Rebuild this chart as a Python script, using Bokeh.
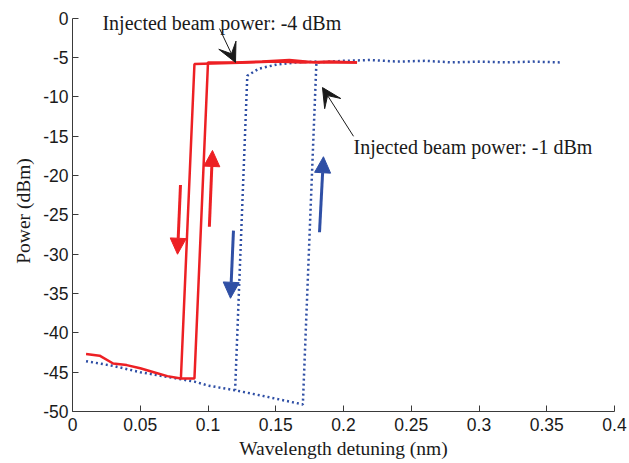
from bokeh.plotting import figure
from bokeh.models import Range1d, FixedTicker, CustomJSTickFormatter, Arrow, NormalHead, VeeHead, Label
from bokeh.embed import file_html
from bokeh.resources import INLINE

# Data
red_up_x = [0.01, 0.02, 0.03, 0.04, 0.05, 0.06, 0.07, 0.08, 0.09, 0.10, 0.12, 0.14, 0.16, 0.18, 0.21]
red_up_y = [-42.7, -42.9, -43.9, -44.1, -44.5, -45.0, -45.5, -45.8, -45.8, -5.6, -5.6, -5.5, -5.3, -5.6, -5.6]
red_down_x = [0.21, 0.19, 0.17, 0.15, 0.13, 0.11, 0.09, 0.08]
red_down_y = [-5.6, -5.5, -5.6, -5.5, -5.6, -5.7, -5.8, -45.8]

blue_up_x = [0.01, 0.03, 0.05, 0.07, 0.09, 0.10, 0.12, 0.14, 0.17, 0.18, 0.20, 0.22, 0.24, 0.26, 0.28, 0.30, 0.32, 0.34, 0.36]
blue_up_y = [-43.6, -44.2, -45.0, -45.6, -46.2, -46.7, -47.3, -48.0, -49.1, -5.6, -5.4, -5.3, -5.5, -5.4, -5.6, -5.5, -5.6, -5.5, -5.6]
blue_down_x = [0.18, 0.165, 0.15, 0.1375, 0.129, 0.12]
blue_down_y = [-5.5, -5.6, -5.9, -6.4, -7.3, -47.3]

x_ticks = [0, 0.05, 0.1, 0.15, 0.2, 0.25, 0.3, 0.35, 0.4]
y_ticks = [0, -5, -10, -15, -20, -25, -30, -35, -40, -45, -50]

# sweep-direction arrows: (x_start, y_start, x_end, y_end)
red_arrows = [(0.0797, -21.2, 0.0775, -30.0), (0.101, -26.5, 0.1033, -16.8)]
blue_arrows = [(0.1188, -27.0, 0.1166, -35.6), (0.1823, -27.2, 0.1852, -17.6)]

# annotations
ann_texts = ["Injected beam power: -4 dBm", "Injected beam power: -1 dBm"]
ann_text_pos = [(0.0221, -0.6), (0.2074, -16.4)]
ann_arrows = [(0.1085, -1.3, 0.1203, -5.6), (0.2074, -15.0, 0.1845, -8.8)]

RED = "#ed2024"
BLUE = "#2f4fa5"
SERIF = "Liberation Serif"
SANS = "Liberation Sans"

p = figure(width=629, height=463, output_backend="svg", toolbar_location=None,
           x_range=Range1d(0, 0.4), y_range=Range1d(-50, 1),
           min_border_left=72, min_border_right=15, min_border_top=10, min_border_bottom=52)
p.outline_line_color = None
p.grid.grid_line_color = None
p.background_fill_color = "white"
p.border_fill_color = "white"

for ax in (p.xaxis[0], p.yaxis[0]):
    ax.major_tick_in = 6
    ax.major_tick_out = 0
    ax.minor_tick_line_color = None
    ax.axis_line_color = "#3a3a3a"
    ax.major_tick_line_color = "#3a3a3a"
    ax.major_label_text_font = SANS
    ax.major_label_text_font_size = "17.5px"
    ax.major_label_text_color = "#1a1a1a"
    ax.axis_label_text_font = SERIF
    ax.axis_label_text_font_size = "19.5px"
    ax.axis_label_text_font_style = "normal"
    ax.axis_label_text_color = "#1a1a1a"
    ax.formatter = CustomJSTickFormatter(code="return String(Math.round(tick*1000)/1000);")

p.yaxis.bounds = (-50, 0)
p.xaxis.ticker = FixedTicker(ticks=x_ticks)
p.yaxis.ticker = FixedTicker(ticks=y_ticks)
p.xaxis.axis_label = "Wavelength detuning (nm)"
p.yaxis.axis_label = "Power (dBm)"
p.xaxis.major_label_standoff = 6
p.yaxis.major_label_standoff = 4
p.xaxis.axis_label_standoff = 4
p.yaxis.axis_label_standoff = 6

p.line(blue_up_x, blue_up_y, line_color=BLUE, line_width=2.5, line_dash="2 3")
p.line(blue_down_x, blue_down_y, line_color=BLUE, line_width=2.5, line_dash="2 3")
p.line(red_up_x, red_up_y, line_color=RED, line_width=2.5)
p.line(red_down_x, red_down_y, line_color=RED, line_width=2.5)

for (xs, ys, xe, ye) in red_arrows:
    p.add_layout(Arrow(x_start=xs, y_start=ys, x_end=xe, y_end=ye, line_color=RED, line_width=3,
                       end=NormalHead(size=16, fill_color=RED, line_color=RED)))
for (xs, ys, xe, ye) in blue_arrows:
    p.add_layout(Arrow(x_start=xs, y_start=ys, x_end=xe, y_end=ye, line_color=BLUE, line_width=3,
                       end=NormalHead(size=16, fill_color=BLUE, line_color=BLUE)))
for (xs, ys, xe, ye) in ann_arrows:
    p.add_layout(Arrow(x_start=xs, y_start=ys, x_end=xe, y_end=ye, line_color="#1a1a1a", line_width=1,
                       end=VeeHead(size=19, fill_color="#1a1a1a", line_color="#1a1a1a")))
for t, (tx, ty) in zip(ann_texts, ann_text_pos):
    p.add_layout(Label(x=tx, y=ty, text=t, text_font=SERIF, text_font_size="20px",
                       text_baseline="middle", text_align="left", text_color="#1a1a1a"))

open("out.html", "w").write(file_html(p, INLINE))
